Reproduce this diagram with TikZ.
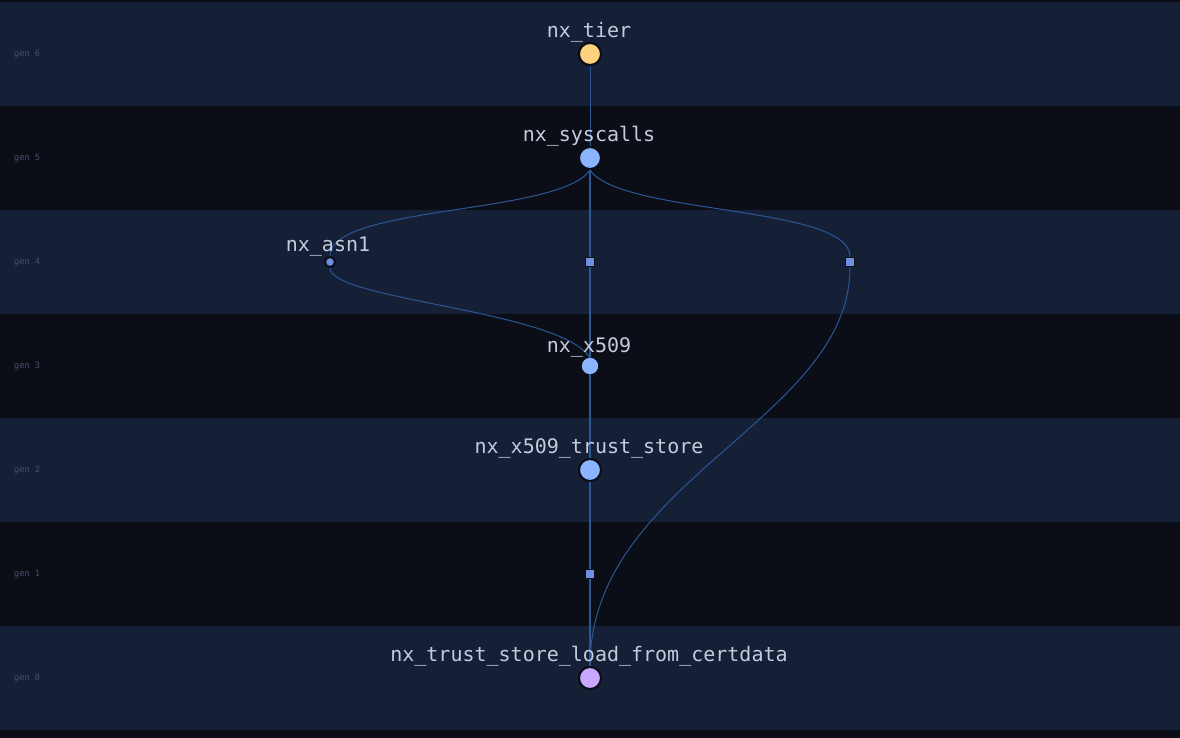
\documentclass[tikz,border=0pt]{standalone}
\usepackage{fontspec}
\setmonofont{DejaVu Sans Mono}
\definecolor{bandA}{HTML}{151F36}
\definecolor{bandB}{HTML}{0B0E17}
\definecolor{edgec}{HTML}{2B5796}
\definecolor{labelc}{HTML}{C3CBDD}
\definecolor{genc}{HTML}{46506C}
\definecolor{tierc}{HTML}{FFD27F}
\definecolor{bluec}{HTML}{8AB4FF}
\definecolor{purpc}{HTML}{C9A6FF}
\definecolor{dummyc}{HTML}{6F8FE0}
\begin{document}
\begin{tikzpicture}[x=1pt,y=-1pt,
  genlbl/.style={font=\ttfamily\fontsize{8.6}{8.6}\selectfont,text=genc,anchor=west,inner sep=0pt},
  lbl/.style={font=\ttfamily\fontsize{20}{20}\selectfont,text=labelc,inner sep=0pt},
  bignode/.style={circle,draw=bandB,line width=2pt,minimum size=22pt,inner sep=0pt},
  midnode/.style={circle,draw=none,minimum size=16pt,inner sep=0pt},
  smallnode/.style={circle,draw=bandB,line width=2pt,fill=dummyc,minimum size=10pt,inner sep=0pt},
  dummy/.style={rectangle,draw=bandB,line width=1.8pt,fill=dummyc,minimum size=9pt,inner sep=0pt},
  thin/.style={draw=edgec,line width=1pt},
  thick/.style={draw=edgec,line width=2.8pt}]
\useasboundingbox (0,0) rectangle (1180,738);
\fill[bandB] (0,0) rectangle (1180,738);
\foreach \y in {2,210,418,626} {\fill[bandA] (0,\y) rectangle (1180,\y+104);}
\foreach \g/\y in {6/54,5/158,4/262,3/366,2/470,1/574,0/678} {
  \node[genlbl] (g\g) at (14,\y) {gen \g};
}
% nodes
\node[bignode,fill=tierc] (tier) at (590,54) {};
\node[bignode,fill=bluec] (sys) at (590,158) {};
\node[smallnode] (asn) at (330,262) {};
\node[dummy] (d1) at (590,262) {};
\node[dummy] (d2) at (850,262) {};
\node[midnode,fill=bluec] (x509) at (590,366) {};
\node[bignode,fill=bluec] (ts) at (590,470) {};
\node[dummy] (d3) at (590,574) {};
\node[bignode,fill=purpc] (cert) at (590,678) {};
% edges
\draw[thin] (tier) -- (sys);
\draw[thin] (sys.south) .. controls (560,215) and (330,205) .. (asn.north);
\draw[thin] (sys.south) .. controls (620,215) and (850,205) .. (d2.north);
\draw[thin] (asn.south) .. controls (330,300) and (560,310) .. (x509.north);
\draw[thin] (d2.south) .. controls (850,420) and (590,480) .. (cert.north);
\draw[thick] (sys) -- (d1);
\draw[thick] (d1) -- (x509);
\draw[thick] (x509) -- (ts);
\draw[thick] (ts) -- (d3);
\draw[thick] (d3) -- (cert);
% redraw nodes on top
\node[bignode,fill=tierc] at (590,54) {};
\node[bignode,fill=bluec] at (590,158) {};
\node[smallnode] at (330,262) {};
\node[dummy] at (590,262) {};
\node[dummy] at (850,262) {};
\node[midnode,fill=bluec] at (590,366) {};
\node[bignode,fill=bluec] at (590,470) {};
\node[dummy] at (590,574) {};
\node[bignode,fill=purpc] at (590,678) {};
% labels
\node[lbl] (ltier) at (589,32) {nx\_tier};
\node[lbl] (lsys) at (589,136) {nx\_syscalls};
\node[lbl] (lasn) at (328,247) {nx\_asn1};
\node[lbl] (lx) at (589,347) {nx\_x509};
\node[lbl] (lts) at (589,448) {nx\_x509\_trust\_store};
\node[lbl] (lcert) at (589,656) {nx\_trust\_store\_load\_from\_certdata};
\end{tikzpicture}
\end{document}
